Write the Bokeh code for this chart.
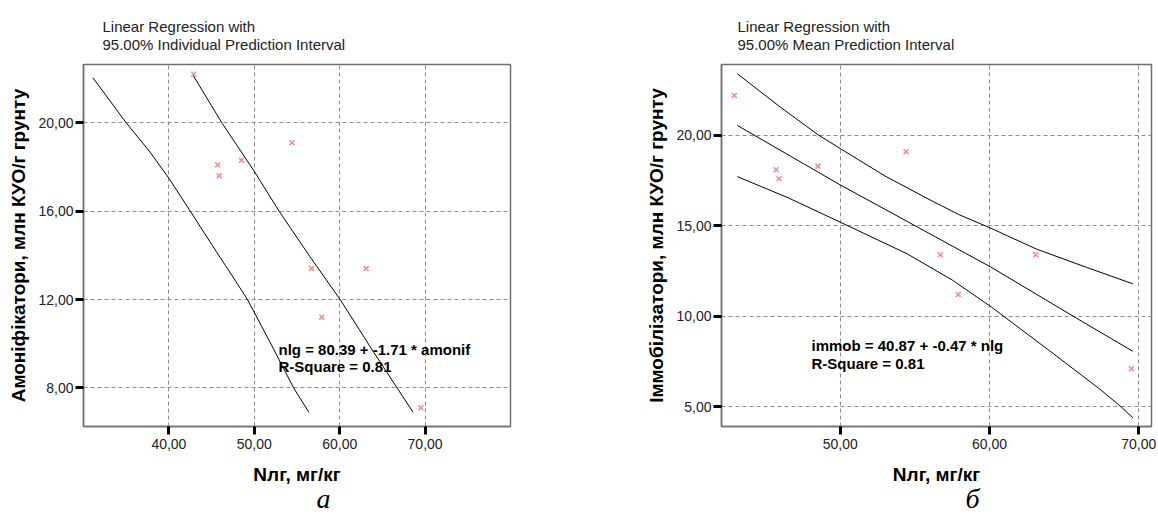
from bokeh.plotting import figure
from bokeh.models import Range1d, FixedTicker, Label, CustomJSTickFormatter, Title
from bokeh.layouts import row
from bokeh.embed import file_html
from bokeh.resources import INLINE

# ---- data ----
nlg = [42.9, 45.7, 45.9, 48.5, 54.4, 56.7, 57.9, 63.1, 69.5]
amonif = [22.2, 18.1, 17.6, 18.3, 19.1, 13.4, 11.2, 13.4, 7.1]
immob = [22.2, 18.1, 17.6, 18.3, 19.1, 13.4, 11.2, 13.4, 7.1]

# left chart: individual prediction interval curves
pi_low_x = [31.1, 35.0, 37.8, 40.0, 42.5, 45.6, 47.4, 49.2, 52.0, 54.6, 56.4]
pi_low_y = [22.04, 20.0, 18.67, 17.49, 16.0, 14.14, 13.08, 12.0, 9.95, 8.0, 6.89]
pi_up_x = [42.85, 46.2, 50.0, 52.9, 56.5, 60.05, 64.0, 68.6]
pi_up_y = [22.14, 20.0, 17.8, 16.0, 13.95, 12.0, 9.6, 6.89]

# right chart: fit line and mean prediction interval
ci_up_x = [43.1, 46.0, 48.5, 50.0, 53.0, 56.2, 58.0, 60.1, 63.15, 66.5, 69.6]
ci_up_y = [23.41, 21.55, 20.04, 19.27, 17.75, 16.35, 15.6, 14.86, 13.71, 12.7, 11.79]
fit_x = [43.1, 50.0, 60.1, 65.6, 69.6]
fit_y = [20.55, 17.26, 12.71, 10.0, 8.06]
ci_lo_x = [43.1, 46.5, 50.0, 54.5, 57.5, 60.1, 64.0, 67.4, 68.8, 69.6]
ci_lo_y = [17.72, 16.55, 15.2, 13.44, 12.0, 10.52, 8.1, 5.96, 5.0, 4.38]

left_xticks = [40, 50, 60, 70]
left_yticks = [8, 12, 16, 20]
right_xticks = [50, 60, 70]
right_yticks = [5, 10, 15, 20]

left_title = ["Linear Regression with", "95.00% Individual Prediction Interval"]
right_title = ["Linear Regression with", "95.00% Mean Prediction Interval"]
left_eq = ["nlg = 80.39 + -1.71 * amonif", "R-Square = 0.81"]
right_eq = ["immob = 40.87 + -0.47 * nlg", "R-Square = 0.81"]

FONT = "Liberation Sans"
H = 514
fmt = CustomJSTickFormatter(code="return tick.toFixed(2).replace('.', ',');")


def make_fig(width, bl, bt, br, x_range, y_range, xticks, yticks, ylabel, titles, toff, letter, loff):
    p = figure(width=width, height=H, output_backend="svg", toolbar_location=None,
               x_range=Range1d(*x_range), y_range=Range1d(*y_range),
               min_border_left=bl, min_border_top=bt, min_border_right=br,
               min_border_bottom=H - 426)
    p.background_fill_color = "white"
    p.border_fill_color = "white"
    p.outline_line_color = "#707070"
    p.outline_line_width = 1.5
    for ax, ticks in ((p.xaxis[0], xticks), (p.yaxis[0], yticks)):
        ax.ticker = FixedTicker(ticks=ticks)
        ax.formatter = fmt
        ax.axis_line_color = "#707070"
        ax.axis_line_width = 1.5
        ax.major_tick_line_color = "black"
        ax.major_tick_line_width = 3
        ax.major_tick_out = 8
        ax.major_tick_in = 0
        ax.minor_tick_line_color = None
        ax.major_label_text_font = FONT
        ax.major_label_text_font_size = "14px"
        ax.major_label_text_color = "#222222"
        ax.axis_label_text_font = FONT
        ax.axis_label_text_font_style = "bold"
        ax.axis_label_text_font_size = "19px"
        ax.axis_label_text_color = "black"
    p.xaxis.axis_label = "Nлг, мг/кг"
    p.xaxis.major_label_standoff = 4
    p.xaxis.axis_label_standoff = 12
    p.yaxis.axis_label = ylabel
    p.yaxis.major_label_standoff = 2
    p.yaxis.axis_label_standoff = 6
    for g in (p.xgrid[0], p.ygrid[0]):
        g.grid_line_color = "#8c8c8c"
        g.grid_line_dash = "4 3"
        g.grid_line_width = 1
    # two-line title as one multi-line Title
    p.add_layout(Title(text="\n".join(titles), align="left", offset=toff, standoff=23,
                       text_font=FONT, text_font_size="15px", text_font_style="normal",
                       text_line_height=1.05, text_color="#222222"), "above")
    # panel letter below the x axis
    p.add_layout(Title(text=letter, align="left", offset=loff, standoff=-13,
                       text_font="Liberation Serif", text_font_size="28px",
                       text_font_style="italic", text_color="black"), "below")
    return p


def add_text(p, x, y, t):
    # screen units measured from the frame's bottom-left corner
    p.add_layout(Label(x=x, y=y, x_units="screen", y_units="screen", text=t,
                       text_font=FONT, text_font_size="15px", text_font_style="bold",
                       text_color="black", text_baseline="middle", text_align="left"))


# ---- left chart ----
p1 = make_fig(608, 83, 64, 98, (30, 80), (6.25, 22.64), left_xticks, left_yticks,
              "Амоніфікатори, млн КУО/г грунту", left_title, 19, "а", 233)
p1.line(pi_low_x, pi_low_y, line_color="black", line_width=1)
p1.line(pi_up_x, pi_up_y, line_color="black", line_width=1)
p1.scatter(nlg, amonif, marker="x", size=7, line_color="#f28c8c", line_width=1.5)
add_text(p1, 195, 77, left_eq[0])
add_text(p1, 195, 60, left_eq[1])

# ---- right chart ----
p2 = make_fig(549, 113, 60, 6, (42.04, 70.85), (3.9, 23.92), right_xticks, right_yticks,
              "Іммобілізатори, млн КУО/г грунту", right_title, 16, "б", 244)
p2.line(ci_up_x, ci_up_y, line_color="black", line_width=1)
p2.line(fit_x, fit_y, line_color="black", line_width=1)
p2.line(ci_lo_x, ci_lo_y, line_color="black", line_width=1)
p2.scatter(nlg, immob, marker="x", size=7, line_color="#f28c8c", line_width=1.5)
add_text(p2, 90, 81, right_eq[0])
add_text(p2, 90, 63, right_eq[1])

layout = row(p1, p2, spacing=0)
open("out.html", "w").write(file_html(layout, INLINE))
